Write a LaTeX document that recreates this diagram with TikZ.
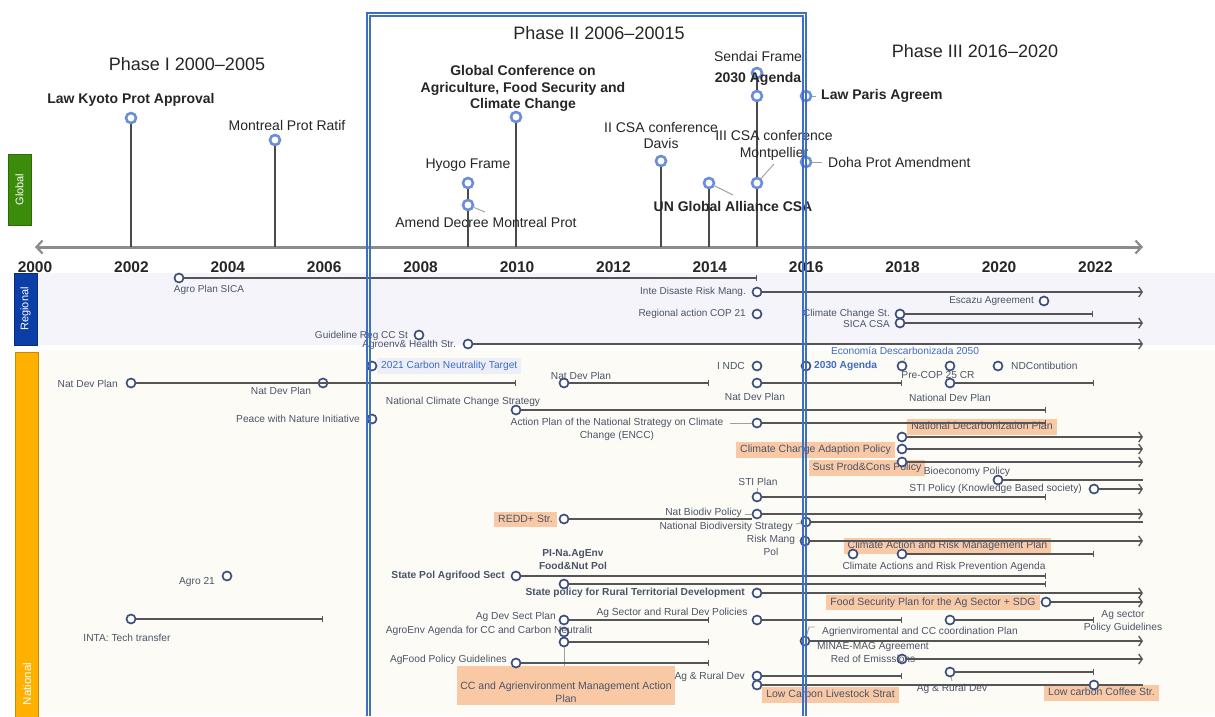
\documentclass[tikz,border=0pt]{standalone}
\usepackage{fontspec}
\setmainfont{Liberation Sans}
\usetikzlibrary{arrows.meta}
\definecolor{gmark}{HTML}{6A8FD8}
\definecolor{nmark}{HTML}{3D4F80}
\definecolor{linec}{HTML}{555555}
\definecolor{stemc}{HTML}{4A4A4A}
\definecolor{labc}{HTML}{4A5468}
\definecolor{gtxt}{HTML}{262626}
\definecolor{phaseb}{HTML}{3E6FC6}
\definecolor{orangebg}{HTML}{F9C9A6}
\definecolor{blutxt}{HTML}{3F6CC2}
\definecolor{cnbg}{HTML}{ECEFF8}
\definecolor{regbg}{HTML}{F4F4FA}
\definecolor{natbg}{HTML}{FDFBF5}
\definecolor{gbox}{HTML}{3C8C0C}
\definecolor{gboxd}{HTML}{2E6A08}
\definecolor{rbox}{HTML}{0B3EA6}
\definecolor{rboxd}{HTML}{082E80}
\definecolor{nbox}{HTML}{FFB000}
\definecolor{nboxd}{HTML}{C98A00}
\definecolor{axisc}{HTML}{8C8C8C}
\begin{document}
\begin{tikzpicture}[x=1pt,y=-1pt,
  lbl/.style={font=\fontsize{10.2}{13}\selectfont, text=labc, inner sep=1pt},
  rlbl/.style={font=\fontsize{10}{11}\selectfont, text=labc, inner sep=1pt},
  blbl/.style={lbl, font=\fontsize{10.2}{13}\selectfont\bfseries},
  glbl/.style={font=\fontsize{14}{16.5}\selectfont, text=gtxt, inner sep=0pt, align=center},
  gblbl/.style={glbl, font=\fontsize{14}{16.5}\selectfont\bfseries},
  phase/.style={font=\fontsize{18}{20}\selectfont, text=gtxt, inner sep=0pt},
  yrlbl/.style={font=\fontsize{15.5}{17}\selectfont\bfseries, text=gtxt, inner sep=0pt},
  gmk/.style={circle, draw=gmark, fill=white, line width=2.6pt, minimum size=10pt, inner sep=0pt},
  nmk/.style={circle, draw=nmark, fill=white, line width=1.7pt, minimum size=9pt, inner sep=0pt},
  stem/.style={draw=stemc, line width=1.3pt},
  conn/.style={draw=gray!75, line width=0.9pt},
  tl/.style={draw=linec, line width=1.2pt},
  barend/.style={tl, -{Bar[width=6pt,line width=1pt]}},
  arrend/.style={tl, -{Straight Barb[length=3.5pt,width=10pt,line width=1.3pt]}},
  obox/.style={fill=orangebg, font=\fontsize{10.5}{12}\selectfont, text=labc, inner xsep=4pt, inner ysep=3pt, text height=7.5pt, text depth=2pt},
  catbox/.style={draw, line width=0.8pt, rotate=90, text=white, font=\fontsize{11}{13}\selectfont, inner sep=0pt},
]
\useasboundingbox (0,0) rectangle (1215,716);
\fill[white] (0,0) rectangle (1215,716);

% ---------- bands ----------
\fill[regbg] (37,273) rectangle (1215,345);
\fill[natbg] (38,350) rectangle (1215,716);
\node[catbox, fill=gbox, draw=gboxd, minimum width=71pt, minimum height=23pt] (globalbox) at (19.5,189.5) {Global};
\node[catbox, fill=rbox, draw=rboxd, minimum width=72pt, minimum height=23pt] (regionalbox) at (25.5,309) {Regional};
\node[catbox, fill=nbox, draw=nboxd, minimum width=366pt, minimum height=23pt] (nationalbox) at (26.5,535) {};
\node[rotate=90, text=white, font=\fontsize{11.5}{13}\selectfont, inner sep=0pt] (nationallbl) at (27,684) {National};

% ---------- phase titles ----------
\node[phase] (ph1) at (187,64) {Phase I 2000–2005};
\node[phase] (ph2) at (599,33) {Phase II 2006–20015};
\node[phase] (ph3) at (975,51) {Phase III 2016–2020};

% ---------- axis ----------
\coordinate (axL) at (35,247);
\coordinate (axR) at (1143,247);
\draw[axisc, line width=3pt, {Straight Barb[length=6pt,width=13pt,line width=2.2pt]}-{Straight Barb[length=6pt,width=13pt,line width=2.2pt]}] (axL) -- (axR);
\foreach \yr in {2000,2002,...,2022} {
  \node[yrlbl] (y\yr) at ({35+(\yr-2000)*48.2},267) {\yr};
}

% ---------- orange boxes (behind lines) ----------
\node[obox] (decarbbox) at (982,427) {National Decarbonization Plan};
\node[obox] (ccadaptbox) at (815.5,450) {Climate Change Adaption Policy};
\node[obox] (sustpbox) at (867,468) {Sust Prod\&Cons Policy};
\node[obox] (reddbox) at (525.5,519.5) {REDD+ Str.};
\node[obox] (carmpbox) at (947.5,546) {Climate Action and Risk Management Plan};
\node[obox] (foodsecbox) at (933,602.5) {Food Security Plan for the Ag Sector + SDG};
\node[obox] (lclsbox) at (830.5,695) {Low Carbon Livestock Strat};
\node[obox] (lccoffeebox) at (1101.5,693) {Low carbon Coffee Str.};
\node[fill=orangebg, minimum width=218pt, minimum height=39pt, inner sep=0pt] (ccbox) at (566,685.5) {};
\node[lbl, align=center, font=\fontsize{10.5}{12.5}\selectfont] (ccboxt) at (566,692) {CC and Agrienvironment Management Action\\Plan};
\node[fill=cnbg, text=blutxt, font=\fontsize{10.2}{12}\selectfont, inner xsep=4pt, inner ysep=3pt, text height=7.5pt, text depth=2pt, anchor=west] (carbonbox) at (377,366) {2021 Carbon Neutrality Target};

% ---------- global events ----------
\node[gmk] (kyoto) at (131,118) {};
\node[gmk] (montr) at (275,140) {};
\node[gmk] (hyogo) at (468,183) {};
\node[gmk] (amend) at (468,205) {};
\node[gmk] (gconf) at (516,117) {};
\node[gmk] (csa2) at (661,161) {};
\node[gmk] (unga) at (709,183) {};
\node[gmk] (sendai) at (757,73) {};
\node[gmk] (agenda) at (757,96) {};
\node[gmk] (csa3) at (757,183) {};
\node[gmk] (paris) at (806,96) {};
\node[gmk] (doha) at (806,162) {};

\draw[stem] (kyoto) -- (kyoto |- axL);
\draw[stem] (montr) -- (montr |- axL);
\draw[stem] (hyogo) -- (amend);
\draw[stem] (amend) -- (amend |- axL);
\draw[stem] (gconf) -- (gconf |- axL);
\draw[stem] (csa2) -- (csa2 |- axL);
\draw[stem] (unga) -- (unga |- axL);
\draw[stem] (sendai) -- (agenda);
\draw[stem] (agenda) -- (csa3);
\draw[stem] (csa3) -- (csa3 |- axL);

\coordinate (amendC) at (485,212);
\coordinate (ungaC) at (733,195);
\coordinate (csa3C) at (774,164);
\coordinate (parisC) at (816,96);
\coordinate (dohaC) at (822,162);
\draw[conn] (amend) -- (amendC);
\draw[conn] (unga) -- (ungaC);
\draw[conn] (csa3) -- (csa3C);
\draw[conn] (paris) -- (parisC);
\draw[conn] (doha) -- (dohaC);

\node[gblbl] (kyotol) at (131,100) {Law Kyoto Prot Approval};
\node[glbl] (montrl) at (287,125) {Montreal Prot Ratif};
\node[glbl] (hyogol) at (468,165) {Hyogo Frame};
\node[glbl] (amendl) at (486,222) {Amend Decree Montreal Prot};
\node[gblbl] (gconfl) at (523,88.5) {Global Conference on\\Agriculture, Food Security and\\Climate Change};
\node[glbl] (csa2l) at (661,135.5) {II CSA conference\\Davis};
\node[gblbl] (ungal) at (733,206) {UN Global Alliance CSA};
\node[glbl] (sendail) at (758,56) {Sendai Frame};
\node[gblbl] (agendal) at (758,79) {2030 Agenda};
\node[glbl] (csa3l) at (774,145.5) {III CSA conference\\Montpellier};
\node[gblbl, anchor=west] (parisl) at (821,96) {Law Paris Agreem};
\node[glbl, anchor=west] (dohal) at (828,162) {Doha Prot Amendment};

% ---------- regional ----------
\node[nmk] (agsica) at (179,278) {};
\node[nmk] (idrm) at (757,292) {};
\node[nmk] (escazu) at (1044,301) {};
\node[nmk] (cop21) at (757,314) {};
\node[nmk] (ccst) at (900,314) {};
\node[nmk] (sicacsa) at (900,323) {};
\node[nmk] (guide) at (419,335) {};
\node[nmk] (agroenv) at (468,344) {};

\coordinate (agsicaE) at (757,278);
\coordinate (idrmE) at (1143,292);
\coordinate (ccstE) at (1093,314);
\coordinate (sicacsaE) at (1143,323);
\coordinate (agroenvE) at (1143,344);
\draw[barend] (agsica) -- (agsicaE);
\draw[arrend] (idrm) -- (idrmE);
\draw[barend] (ccst) -- (ccstE);
\draw[arrend] (sicacsa) -- (sicacsaE);
\draw[arrend] (agroenv) -- (agroenvE);

\node[rlbl] (agsical) at (209,290) {Agro Plan SICA};
\node[rlbl, anchor=east] (idrml) at (747,292) {Inte Disaste Risk Mang.};
\node[rlbl, anchor=east] (escazul) at (1035,301) {Escazu Agreement};
\node[rlbl, anchor=east] (cop21l) at (747,314) {Regional action COP 21};
\node[rlbl, anchor=east] (ccstl) at (891,314) {Climate Change St.};
\node[rlbl, anchor=east] (sicacsal) at (891,324) {SICA CSA};
\node[rlbl, anchor=east] (guidel) at (409,336) {Guideline Reg CC St};
\node[rlbl, anchor=east] (agroenvl) at (457,345) {Agroenv\& Health Str.};

% ---------- national markers ----------
\node[nmk] (carbon) at (372,366) {};
\node[nmk] (ndp1) at (131,383) {};
\node[nmk] (ndp2) at (323,383) {};
\node[nmk] (peace) at (372,419) {};
\node[nmk] (nccs) at (516,410) {};
\node[nmk] (ndp3) at (564,383) {};
\node[nmk] (indc) at (757,366) {};
\node[nmk] (ndp4) at (757,383) {};
\node[nmk] (ag2030) at (806,366) {};
\node[nmk] (econ) at (902,366) {};
\node[nmk] (precop) at (950,366) {};
\node[nmk] (ndcon) at (998,366) {};
\node[nmk] (ndp5) at (950,383) {};
\node[nmk] (encc) at (757,423) {};
\node[nmk] (decarb) at (902,437) {};
\node[nmk] (ccadapt) at (902,449) {};
\node[nmk] (sustp) at (902,462) {};
\node[nmk] (bioeco) at (998,480) {};
\node[nmk] (stipol) at (1094,489) {};
\node[nmk] (stiplan) at (757,497) {};
\node[nmk] (nbpol) at (757,514) {};
\node[nmk] (redd) at (564,519) {};
\node[nmk] (nbs) at (806,522) {};
\node[nmk] (riskm) at (805,541) {};
\node[nmk] (carmA) at (853,554) {};
\node[nmk] (carmB) at (902,554) {};
\node[nmk] (spagri) at (516,576) {};
\node[nmk] (plna) at (564,584) {};
\node[nmk] (sprtd) at (757,593) {};
\node[nmk] (foodsec) at (1046,602) {};
\node[nmk] (agdsp) at (564,620) {};
\node[nmk] (asrdp) at (757,620) {};
\node[nmk] (aspg) at (950,620) {};
\node[nmk] (aeagA) at (564,632) {};
\node[nmk] (aeagB) at (564,642) {};
\node[nmk] (agfood) at (516,663) {};
\node[nmk] (aecc) at (805,641) {};
\node[nmk] (redem) at (902,659) {};
\node[nmk] (agrd1) at (757,676) {};
\node[nmk] (agrd2) at (757,685) {};
\node[nmk] (agrd3) at (950,672) {};
\node[nmk] (lccm) at (1094,685) {};
\node[nmk] (agro21) at (227,576) {};
\node[nmk] (inta) at (131,619) {};

% ---------- national lines ----------
\coordinate (ndp1E) at (516,383);
\coordinate (nccsE) at (1046,410);
\coordinate (ndp3E) at (709,383);
\coordinate (ndp4E) at (902,383);
\coordinate (ndp5E) at (1094,383);
\coordinate (enccE) at (1046,423);
\coordinate (enccW) at (730,423);
\coordinate (decarbE) at (1143,437);
\coordinate (ccadaptE) at (1143,449);
\coordinate (sustpE) at (1143,462);
\coordinate (bioecoE) at (1143,480);
\coordinate (stipolE) at (1143,489);
\coordinate (stiplanE) at (1046,497);
\coordinate (nbpolE) at (1143,514);
\coordinate (nbpolW) at (745,514);
\coordinate (reddE) at (752,519);
\coordinate (nbsE) at (1143,522);
\coordinate (nbsW) at (796,524);
\coordinate (riskmE) at (1143,541);
\coordinate (carmBE) at (1094,554);
\coordinate (spagriE) at (1046,576);
\coordinate (plnaE) at (1046,584);
\coordinate (sprtdE) at (1143,593);
\coordinate (foodsecE) at (1143,602);
\coordinate (agdspE) at (709,620);
\coordinate (asrdpE) at (902,620);
\coordinate (aspgE) at (1094,620);
\coordinate (aeagBE) at (709,642);
\coordinate (agfoodE) at (709,663);
\coordinate (aeccE) at (1143,641);
\coordinate (aeccK) at (809,627);
\coordinate (aeccT) at (815,627);
\coordinate (redemE) at (1143,659);
\coordinate (agrd1E) at (902,676);
\coordinate (agrd2E) at (1143,685);
\coordinate (agrd3E) at (1094,672);
\coordinate (intaE) at (323,619);
\coordinate (econT) at (905,358);
\coordinate (stiplanT) at (757,488);
\coordinate (agrd3T) at (952,681);

\draw[barend] (ndp1) -- (ndp1E);
\draw[tl] (ndp1) -- (ndp2);
\draw[barend] (nccs) -- (nccsE);
\draw[barend] (ndp3) -- (ndp3E);
\draw[barend] (ndp4) -- (ndp4E);
\draw[barend] (ndp5) -- (ndp5E);
\draw[barend] (encc) -- (enccE);
\draw[conn] (enccW) -- (encc);
\draw[arrend] (decarb) -- (decarbE);
\draw[arrend] (ccadapt) -- (ccadaptE);
\draw[arrend] (sustp) -- (sustpE);
\draw[tl] (bioeco) -- (bioecoE);
\draw[arrend] (stipol) -- (stipolE);
\draw[barend] (stiplan) -- (stiplanE);
\draw[conn] (stiplanT) -- (stiplan);
\draw[arrend] (nbpol) -- (nbpolE);
\draw[conn] (nbpolW) -- (nbpol);
\draw[tl] (redd) -- (reddE);
\draw[tl] (nbs) -- (nbsE);
\draw[conn] (nbsW) -- (nbs);
\draw[arrend] (riskm) -- (riskmE);
\draw[barend] (carmB) -- (carmBE);
\draw[barend] (spagri) -- (spagriE);
\draw[barend] (plna) -- (plnaE);
\draw[arrend] (sprtd) -- (sprtdE);
\draw[arrend] (foodsec) -- (foodsecE);
\draw[barend] (agdsp) -- (agdspE);
\draw[barend] (asrdp) -- (asrdpE);
\draw[barend] (aspg) -- (aspgE);
\draw[barend] (aeagB) -- (aeagBE);
\draw[conn] (aeagB) -- (ccbox.north -| aeagB);
\draw[barend] (agfood) -- (agfoodE);
\draw[arrend] (aecc) -- (aeccE);
\draw[conn] (aecc) -- (aeccK) -- (aeccT);
\draw[arrend] (redem) -- (redemE);
\draw[barend] (agrd1) -- (agrd1E);
\draw[tl] (agrd2) -- (lccm);
\draw[tl] (lccm) -- (agrd2E);
\draw[barend] (agrd3) -- (agrd3E);
\draw[conn] (agrd3) -- (agrd3T);
\draw[barend] (inta) -- (intaE);
\draw[conn] (econ) -- (econT);

% ---------- national labels ----------
\node[lbl, anchor=east] (ndp1l) at (119,384) {Nat Dev Plan};
\node[lbl] (ndp2l) at (281,391) {Nat Dev Plan};
\node[lbl, anchor=east] (peacel) at (361,419) {Peace with Nature Initiative};
\node[lbl] (nccsl) at (463,402) {National Climate Change Strategy};
\node[lbl] (ndp3l) at (581,376) {Nat Dev Plan};
\node[lbl, anchor=east] (indcl) at (746,366) {I NDC};
\node[lbl] (ndp4l) at (755,397) {Nat Dev Plan};
\node[blbl, text=blutxt, anchor=west] (ag2030l) at (813,366) {2030 Agenda};
\node[lbl, text=blutxt] (econl) at (905,351) {Economía Descarbonizada 2050};
\node[lbl] (precopl) at (938,375) {Pre-COP 25 CR};
\node[lbl, anchor=west] (ndconl) at (1010,366) {NDContibution};
\node[lbl] (ndp5l) at (950,398) {National Dev Plan};
\node[lbl, align=center] (enccl) at (617,429.5) {Action Plan of the National Strategy on Climate\\Change (ENCC)};
\node[lbl] (bioecol) at (967,472) {Bioeconomy Policy};
\node[lbl, anchor=east] (stipoll) at (1083,489) {STI Policy (Knowledge Based society)};
\node[lbl] (stiplanl) at (758,482) {STI Plan};
\node[lbl, anchor=east] (nbpoll) at (743,513) {Nat Biodiv Policy};
\node[lbl, anchor=east] (nbsl) at (794,527) {National Biodiversity Strategy};
\node[lbl, align=center] (riskml) at (771,545) {Risk Mang\\Pol};
\node[lbl] (carmAl) at (944,567) {Climate Actions and Risk Prevention Agenda};
\node[blbl, anchor=east] (spagril) at (506,576) {State Pol Agrifood Sect};
\node[blbl, align=center] (plnal) at (573,559.5) {PI-Na.AgEnv\\Food\&Nut Pol};
\node[blbl, anchor=east] (sprtdl) at (746,593) {State policy for Rural Territorial Development};
\node[lbl, anchor=east] (agdspl) at (557,617) {Ag Dev Sect Plan};
\node[lbl] (asrdpl) at (672,613) {Ag Sector and Rural Dev Policies};
\node[lbl, align=center] (aspgl) at (1123,621.5) {Ag sector\\Policy Guidelines};
\node[lbl] (aeagl) at (489,631) {AgroEnv Agenda for CC and Carbon Neutralit};
\node[lbl, anchor=east] (agfoodl) at (508,660) {AgFood Policy Guidelines};
\node[lbl] (aeccl) at (920,632) {Agrienviromental  and CC coordination Plan};
\node[lbl] (minael) at (873,647) {MINAE-MAG Agreement};
\node[lbl] (redeml) at (873,659) {Red of Emisssions};
\node[lbl, anchor=east] (agrd1l) at (746,677) {Ag \& Rural Dev};
\node[lbl] (agrd3l) at (952,689) {Ag \& Rural Dev};
\node[lbl] (agro21l) at (197,582) {Agro 21};
\node[lbl] (intal) at (127,638) {INTA: Tech transfer};

% ---------- phase II frame ----------
\draw[phaseb, line width=1.3pt] (367,716) -- (367,13) -- (806,13) -- (806,716);
\draw[phaseb, line width=1.3pt] (370,716) -- (370,16) -- (803,16) -- (803,716);
\end{tikzpicture}
\end{document}
